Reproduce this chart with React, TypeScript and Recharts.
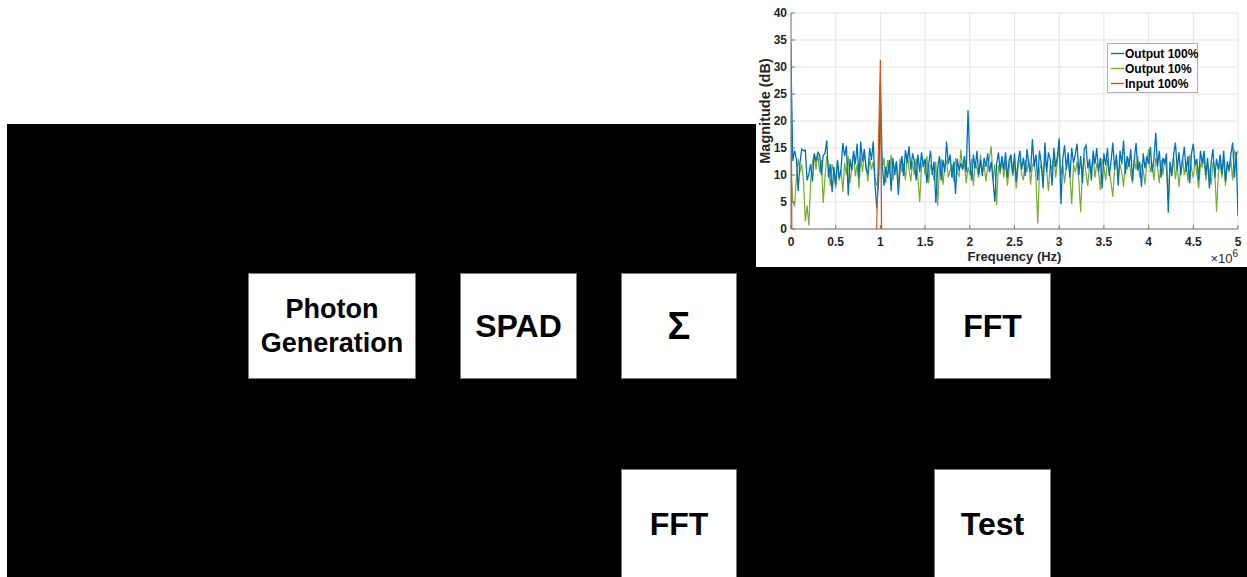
import React from "react";
import { LineChart, Line, XAxis, YAxis, CartesianGrid, Legend, Label } from "recharts";

// Frequency grid step (MHz); axis is shown in units of 1e6 Hz
const FREQ_STEP_MHZ = 0.02;

const OUTPUT_100 = [
  31.3, 12.6, 14.5, 13.0, 7.0, 12.2, 14.8, 14.5, 14.6, 9.0,
  10.2, 12.0, 8.8, 14.0, 12.5, 14.2, 13.8, 10.0, 13.6, 14.0,
  16.4, 9.5, 12.0, 6.8, 11.5, 8.2, 12.8, 9.4, 11.2, 15.9,
  13.5, 15.4, 6.2, 13.0, 10.8, 14.5, 12.0, 15.8, 9.5, 16.2,
  12.5, 14.8, 11.0, 10.2, 15.0, 12.8, 16.2, 8.0, 3.8, 9.0,
  27.0, 12.0, 8.0, 11.5, 9.5, 12.8, 7.0, 13.2, 10.0, 12.5,
  6.3, 11.0, 13.5, 9.8, 14.6, 12.2, 15.3, 11.0, 14.0, 12.5,
  9.0, 13.8, 10.5, 14.2, 11.5, 13.0, 8.5, 12.0, 14.5, 10.0,
  12.5, 4.8, 11.0, 13.5, 9.0, 12.8, 10.5, 16.2, 12.0, 13.8,
  9.5, 12.5, 6.5, 13.0, 10.8, 12.2, 11.0, 13.5, 10.5, 22.0,
  12.5, 9.0, 13.8, 11.2, 14.5, 10.0, 12.8, 9.8, 13.2, 11.5,
  14.0, 10.5, 12.5, 9.0, 5.0, 12.0, 14.2, 10.8, 13.5, 11.0,
  14.2, 9.5, 12.8, 13.8, 10.2, 14.0, 8.8, 12.5, 14.5, 11.0,
  13.2, 9.8, 14.8, 12.0, 10.5, 16.6, 11.5, 13.8, 9.0, 14.5,
  12.0, 7.5, 16.0, 10.5, 14.2, 12.8, 8.0, 15.0, 11.5, 13.5,
  16.8, 4.6, 13.0, 15.5, 11.0, 14.2, 9.5, 15.0, 12.2, 13.8,
  15.8, 10.0, 13.5, 8.5, 14.8, 15.5, 11.2, 13.0, 9.0, 14.5,
  12.0, 15.0, 10.5, 13.2, 7.5, 14.0, 11.8, 15.0, 9.8, 12.5,
  16.0, 11.0, 13.8, 8.0, 14.5, 12.0, 16.4, 10.2, 13.5, 11.5,
  14.8, 9.0, 13.0, 15.9, 10.8, 12.5, 7.8, 14.0, 11.2, 13.5,
  12.0, 15.2, 10.5, 13.0, 17.8, 11.5, 14.5, 9.5, 13.2, 12.0,
  14.0, 3.0, 12.5, 9.8, 13.8, 16.0, 11.0, 14.2, 10.0, 12.8,
  15.2, 10.5, 13.5, 8.5, 14.0, 15.8, 11.8, 13.0, 9.0, 14.5,
  12.0, 14.5, 10.0, 13.2, 7.5, 12.5, 14.8, 9.5, 13.0, 11.0,
  13.8, 10.2, 14.5, 8.8, 12.5, 11.0, 13.8, 16.0, 9.5, 14.2,
  2.4,
];

const OUTPUT_10 = [
  11.0, 5.2, 4.2, 9.5, 13.0, 10.5, 12.0, 8.8, 1.4, 4.4,
  0.6, 9.0, 12.5, 13.8, 11.0, 14.0, 10.5, 12.8, 4.8, 9.5,
  13.5, 11.8, 8.0, 12.0, 10.2, 7.5, 12.5, 9.0, 11.0, 6.8,
  12.2, 10.0, 13.5, 8.5, 11.5, 14.0, 9.8, 12.0, 7.5, 13.2,
  10.5, 14.2, 11.8, 8.8, 13.0, 11.0, 12.5, 9.2, 8.0, 10.0,
  20.0, 11.0, 13.2, 8.5, 12.8, 10.2, 13.8, 9.0, 11.5, 12.5,
  8.2, 13.0, 10.5, 12.2, 9.0, 14.0, 11.0, 8.8, 12.5, 10.0,
  13.2, 9.5, 5.0, 11.8, 12.8, 10.0, 13.5, 8.5, 12.0, 11.0,
  9.0, 12.5, 4.3, 10.8, 13.0, 8.2, 11.5, 12.8, 9.5, 11.0,
  12.0, 8.8, 13.2, 10.5, 9.8, 14.7, 11.0, 12.2, 8.5, 11.5,
  10.0, 13.0, 8.0, 12.5, 11.2, 9.5, 13.8, 10.5, 12.0, 8.8,
  11.5, 13.2, 15.3, 9.0, 12.0, 4.4, 11.8, 10.2, 13.0, 9.5,
  12.5, 8.0, 11.0, 13.5, 9.8, 12.2, 7.5, 11.5, 13.0, 10.2,
  9.0, 12.8, 10.5, 13.0, 8.2, 11.8, 12.5, 9.5, 1.0, 11.0,
  12.0, 9.2, 13.5, 10.8, 7.0, 12.2, 11.0, 13.8, 9.5, 12.5,
  14.8, 10.0, 12.0, 8.5, 11.5, 13.0, 9.8, 4.6, 12.0, 10.5,
  12.5, 9.0, 3.1, 11.0, 13.2, 10.2, 8.0, 12.0, 11.0, 13.5,
  9.5, 12.2, 10.8, 7.2, 13.0, 11.5, 9.0, 12.8, 10.5, 8.5,
  6.0, 11.2, 13.0, 9.8, 12.0, 10.5, 7.8, 12.5, 11.0, 13.2,
  10.2, 8.5, 12.8, 11.0, 13.5, 9.5, 12.0, 10.8, 8.2, 12.5,
  14.8, 10.5, 12.0, 9.0, 13.2, 11.5, 8.5, 12.8, 10.0, 13.0,
  11.0, 5.3, 12.2, 10.5, 13.5, 9.2, 12.0, 7.8, 11.5, 13.0,
  10.0, 12.5, 8.8, 13.8, 11.2, 9.5, 12.8, 10.2, 7.5, 12.0,
  11.5, 13.2, 9.0, 12.0, 10.8, 8.2, 12.5, 11.0, 3.2, 10.0,
  12.5, 9.5, 13.0, 8.0, 11.8, 10.5, 12.8, 9.0, 14.7, 13.5,
  14.5,
];

// Input 100%: sparse spectrum (values below 0 dB fall outside the axis)
const INPUT_F = [0, 0.02, 0.94, 1.0, 1.02, 5.0];
const INPUT_DB = [34.5, -40, -13.4, 31.3, -13.4, -40];

const X_TICKS = [0, 0.5, 1, 1.5, 2, 2.5, 3, 3.5, 4, 4.5, 5];
const Y_TICKS = [0, 5, 10, 15, 20, 25, 30, 35, 40];

const SERIES = [
  { key: "out100", name: "Output 100%", color: "#0072BD" },
  { key: "out10", name: "Output 10%", color: "#77AC30" },
  { key: "input", name: "Input 100%", color: "#D95319" },
];

const rows = OUTPUT_100.map((v, i) => ({
  f: Number((i * FREQ_STEP_MHZ).toFixed(2)),
  out100: v,
  out10: OUTPUT_10[i],
}));
const inputRows = INPUT_F.map((f, i) => ({ f, input: INPUT_DB[i] }));

const FONT = "'Liberation Sans', Arial, Helvetica, sans-serif";
const tickStyle = { fill: "#262626", fontSize: 12, fontWeight: 700, fontFamily: FONT };

const XLabelContent = (props: any) => {
  const vb = props.viewBox || {};
  const { x = 0, y = 0, width = 0 } = vb;
  return (
    <g>
      <text x={x + width / 2} y={y + 32} textAnchor="middle" fontFamily={FONT} fontSize={13} fontWeight={700} fill="#262626">
        Frequency (Hz)
      </text>
      <text x={x + width} y={y + 34} textAnchor="end" fontFamily={FONT} fontSize={13} fill="#262626">
        ×10<tspan dy={-6} fontSize={10}>6</tspan>
      </text>
    </g>
  );
};

const YLabelContent = (props: any) => {
  const vb = props.viewBox || {};
  const { y = 0, height = 0 } = vb;
  const cx = 9;
  const cy = y + height / 2 - 10;
  return (
    <text x={cx} y={cy} transform={`rotate(-90 ${cx} ${cy})`} textAnchor="middle" dominantBaseline="central" fontFamily={FONT} fontSize={14.5} fontWeight={700} fill="#262626">
      Magnitude (dB)
    </text>
  );
};

const LegendContent = () => (
  <div style={{ width: 89, height: 46, border: "1px solid #b0b0b0", background: "#fff", paddingTop: 2, boxSizing: "content-box" }}>
    {SERIES.map((s) => (
      <div key={s.key} style={{ display: "flex", alignItems: "center", height: 15 }}>
        <svg width={17} height={15} style={{ flex: "none" }}>
          <line x1={3} x2={16} y1={7.5} y2={7.5} stroke={s.color} strokeWidth={1.4} />
        </svg>
        <span style={{ fontFamily: FONT, fontSize: 12, fontWeight: 700, color: "#000", whiteSpace: "nowrap" }}>{s.name}</span>
      </div>
    ))}
  </div>
);

const boxBase: React.CSSProperties = {
  position: "absolute",
  background: "#fff",
  border: "1px solid #7a7a7a",
  boxSizing: "border-box",
  display: "flex",
  alignItems: "center",
  justifyContent: "center",
  textAlign: "center",
  fontFamily: FONT,
  fontWeight: 700,
  color: "#000",
};

export default function App() {
  return (
    <div style={{ position: "absolute", left: 0, top: 0, width: 1247, height: 577, background: "#fff", overflow: "hidden" }}>
      <div style={{ position: "absolute", left: 7, top: 124, width: 1240, height: 453, background: "#000" }} />

      <div style={{ ...boxBase, left: 248, top: 273, width: 168, height: 106, fontSize: 27, lineHeight: "34px" }}>
        <div>Photon<br />Generation</div>
      </div>
      <div style={{ ...boxBase, left: 460, top: 273, width: 117, height: 106, fontSize: 32 }}>SPAD</div>
      <div style={{ ...boxBase, left: 621, top: 273, width: 116, height: 106, fontSize: 38 }}>Σ</div>
      <div style={{ ...boxBase, left: 934, top: 273, width: 117, height: 106, fontSize: 32 }}>FFT</div>
      <div style={{ ...boxBase, left: 621, top: 469, width: 116, height: 110, fontSize: 32 }}>FFT</div>
      <div style={{ ...boxBase, left: 934, top: 469, width: 117, height: 110, fontSize: 32 }}>Test</div>

      <div style={{ position: "absolute", left: 756, top: 0, width: 491, height: 267, background: "#fff" }}>
        <LineChart width={491} height={267} data={rows} margin={{ top: 13, right: 9, bottom: 0, left: 0 }}>
          <CartesianGrid stroke="#e3e3e3" strokeWidth={1} horizontalValues={Y_TICKS} verticalValues={X_TICKS} />
          <XAxis
            dataKey="f"
            type="number"
            domain={[0, 5]}
            ticks={X_TICKS}
            allowDataOverflow
            height={38}
            stroke="#777"
            tickSize={-4}
            tickMargin={12}
            tick={tickStyle}
            tickFormatter={(v: number) => String(v)}
          >
            <Label content={XLabelContent} />
          </XAxis>
          <XAxis
            xAxisId="top"
            orientation="top"
            type="number"
            domain={[0, 5]}
            ticks={X_TICKS}
            height={0}
            stroke="#777"
            tickSize={-4}
            tick={false}
          />
          <YAxis
            type="number"
            domain={[0, 40]}
            ticks={Y_TICKS}
            allowDataOverflow
            width={35}
            stroke="#777"
            tickSize={-4}
            tickMargin={8}
            tick={tickStyle}
          >
            <Label content={YLabelContent} />
          </YAxis>
          <YAxis
            yAxisId="right"
            orientation="right"
            type="number"
            domain={[0, 40]}
            ticks={Y_TICKS}
            width={0}
            stroke="#777"
            tickSize={-4}
            tick={false}
          />
          <Legend
            layout="vertical"
            align="center"
            verticalAlign="middle"
            content={LegendContent}
            wrapperStyle={{ left: 351, top: 43, width: 91, height: 49 }}
          />
          <Line dataKey="out10" name="Output 10%" stroke="#77AC30" strokeWidth={1.2} dot={false} type="linear" isAnimationActive={false} />
          <Line dataKey="out100" name="Output 100%" stroke="#0072BD" strokeWidth={1.3} dot={false} type="linear" isAnimationActive={false} />
          <Line data={inputRows} dataKey="input" name="Input 100%" stroke="#D95319" strokeWidth={1.2} dot={false} type="linear" isAnimationActive={false} />
        </LineChart>
      </div>
    </div>
  );
}
